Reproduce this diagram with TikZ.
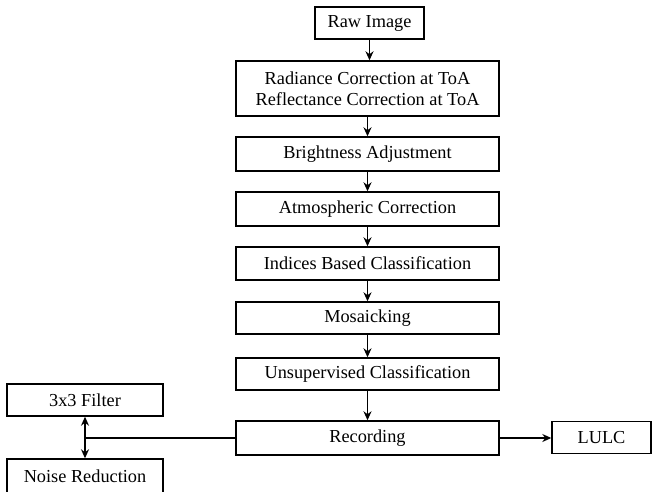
\documentclass[tikz,border=0pt]{standalone}
\usepackage{fontspec}
\setmainfont{Liberation Serif}
\usepackage{tikz}
\usetikzlibrary{arrows.meta}
\tikzset{
  stage/.style={draw, line width=1.4bp, inner sep=0pt, minimum width=263bp, minimum height=33bp,
    align=center, font=\fontsize{18.3bp}{21.5bp}\selectfont},
  sidebox/.style={stage, minimum width=156bp},
  flow/.style={line width=1.4bp, -{Stealth[length=9bp,width=8bp]}}
}

\begin{document}
\begin{tikzpicture}[x=1bp, y=-1bp]
\clip (0,0) rectangle (653,492);
\fill[white] (0,0) rectangle (653,492);

\node[stage, minimum width=109bp, minimum height=32bp] (raw) at (369.5,23) {Raw Image};
\node[stage, minimum height=55bp] (rad) at (367.5,88.5) {Radiance Correction at ToA\\Reflectance Correction at ToA};
\node[stage, minimum height=34bp] (bright) at (367.5,154) {Brightness Adjustment};
\node[stage, minimum height=34bp] (atmos) at (367.5,209) {Atmospheric Correction};
\node[stage] (indices) at (367.5,263.5) {Indices Based Classification};
\node[stage, minimum height=32bp] (mosaic) at (367.5,318) {Mosaicking};
\node[stage, minimum height=32bp] (unsup) at (367.5,374) {Unsupervised Classification};
\node[stage, minimum height=34bp] (rec) at (367.5,438) {Recording};

\node[stage, minimum width=99bp, minimum height=32bp] (lulc) at (601.5,437.5) {LULC};
\node[sidebox, minimum height=32bp] (filter) at (85,400) {3x3 Filter};
\node[sidebox, minimum height=34bp] (noise) at (85,476) {Noise Reduction};

\draw[flow] (raw.south) -- (raw.south |- rad.north);
\draw[flow] (rad) -- (bright);
\draw[flow] (bright) -- (atmos);
\draw[flow] (atmos) -- (indices);
\draw[flow] (indices) -- (mosaic);
\draw[flow] (mosaic) -- (unsup);
\draw[flow] (unsup) -- (rec);
\draw[flow] (rec.east) -- (rec.east -| lulc.west);

% side branch
\coordinate (split) at (filter.south |- rec.west);
\draw[line width=1.4bp] (rec.west) -- (split);
\draw[flow, {Stealth[length=9bp,width=8bp]}-{Stealth[length=9bp,width=8bp]}] (filter) -- (noise);
\end{tikzpicture}
\end{document}
